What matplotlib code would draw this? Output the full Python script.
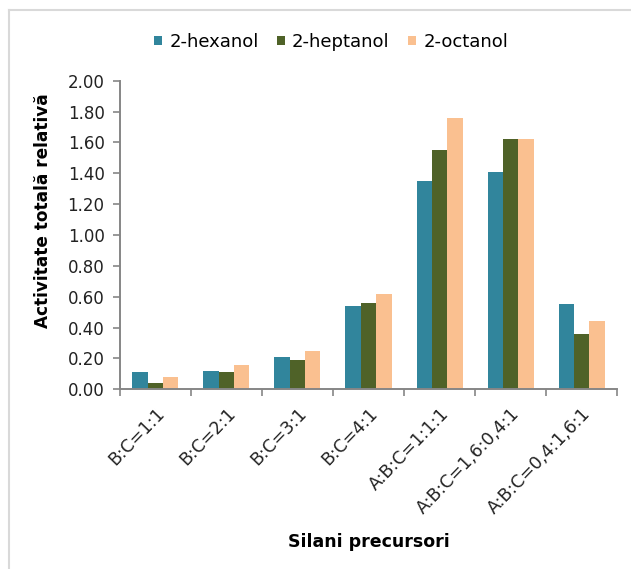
import matplotlib
matplotlib.use("Agg")
import matplotlib.pyplot as plt
import numpy as np
from matplotlib.lines import Line2D

categories = ["B:C=1:1", "B:C=2:1", "B:C=3:1", "B:C=4:1",
              "A:B:C=1:1:1", "A:B:C=1,6:0,4:1", "A:B:C=0,4:1,6:1"]
series_names = ["2-hexanol", "2-heptanol", "2-octanol"]
hexanol = [0.11, 0.12, 0.21, 0.54, 1.35, 1.41, 0.55]
heptanol = [0.04, 0.11, 0.19, 0.56, 1.55, 1.62, 0.36]
octanol = [0.08, 0.16, 0.25, 0.62, 1.76, 1.62, 0.44]
yticks = [0.0, 0.2, 0.4, 0.6, 0.8, 1.0, 1.2, 1.4, 1.6, 1.8, 2.0]

colors = ["#31859C", "#4F6228", "#FAC090"]
axis_gray = "#868686"

plt.rcParams["font.family"] = ["DejaVu Sans"]

fig = plt.figure(figsize=(6.31, 5.69), dpi=100)
ax = fig.add_axes([0.190, 0.316, 0.788, 0.542])

x = np.arange(len(categories))
width = 0.216
for i, (vals, name) in enumerate(zip([hexanol, heptanol, octanol], series_names)):
    ax.bar(x + (i - 1) * width, vals, width=width, color=colors[i],
           label=name, linewidth=0, zorder=2)

ax.set_xlim(-0.5, len(categories) - 0.5)
ax.set_ylim(0, 2.0)
ax.set_yticks(yticks)
ax.set_yticklabels([f"{v:.2f}" for v in yticks], fontsize=12, color="#222222")

# category boundaries carry the tick marks, labels sit at group centres
ax.set_xticks(np.arange(-0.5, len(categories), 1.0))
ax.set_xticklabels([])
ax.set_xticks(x, minor=True)
ax.set_xticklabels(categories, minor=True, rotation=46, ha="right",
                   rotation_mode="anchor", fontsize=12.5, color="#222222")
ax.tick_params(axis="x", which="minor", length=0, pad=11)
ax.tick_params(axis="x", which="major", length=5, width=1.2, color=axis_gray, direction="out")
ax.tick_params(axis="y", length=5, width=1.2, color=axis_gray, direction="out", pad=6)

for side in ["top", "right"]:
    ax.spines[side].set_visible(False)
for side in ["left", "bottom"]:
    ax.spines[side].set_color(axis_gray)
    ax.spines[side].set_linewidth(1.4)

ax.set_xlabel("Silani precursori", fontsize=12.5, fontweight="bold", labelpad=0)
ax.xaxis.set_label_coords(0.5, -0.466)
ax.set_ylabel("Activitate totală relativă", fontsize=12.2, fontweight="bold")
ax.yaxis.set_label_coords(-0.137, 0.578)

fig.legend(loc="center", bbox_to_anchor=(331 / 631, 1 - 42 / 569), ncol=3,
           frameon=False, fontsize=13, handlelength=0.45, handleheight=0.45,
           handletextpad=0.4, columnspacing=1.0)

# light chart-area frame
fig.add_artist(Line2D([9 / 631, 9 / 631], [0, 1 - 10 / 569], transform=fig.transFigure,
                      color="#d9d9d9", linewidth=1.5))
fig.add_artist(Line2D([9 / 631, 1], [1 - 10 / 569, 1 - 10 / 569], transform=fig.transFigure,
                      color="#d9d9d9", linewidth=1.5))

fig.savefig("out.png", dpi=100, facecolor="white")
